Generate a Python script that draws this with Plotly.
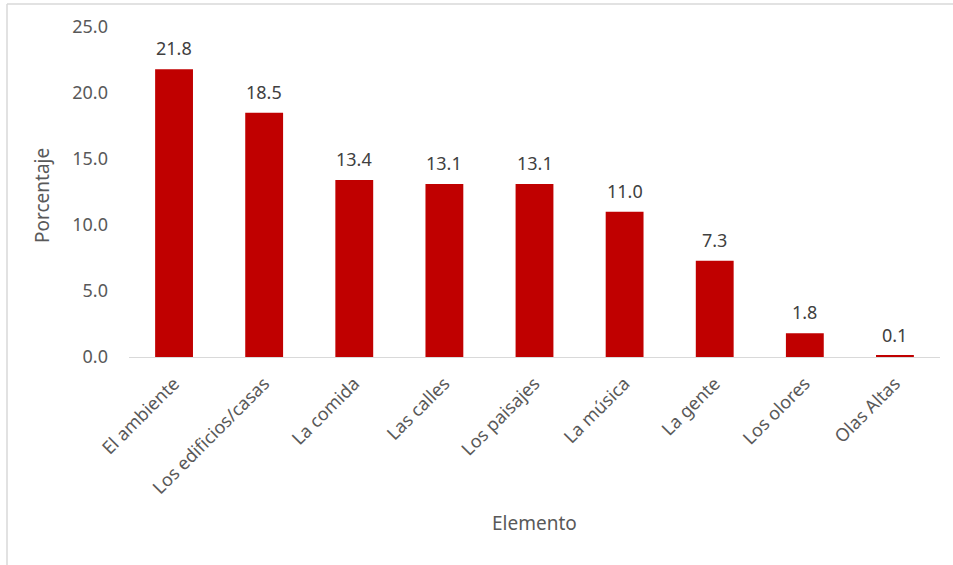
import plotly.graph_objects as go

categories = ["El ambiente", "Los edificios/casas", "La comida", "Las calles", "Los paisajes",
              "La música", "La gente", "Los olores", "Olas Altas"]
values = [21.8, 18.5, 13.4, 13.1, 13.1, 11.0, 7.3, 1.8, 0.1]
y_ticks = [0, 5, 10, 15, 20, 25]

W, H = 953, 565
L, R, T, B = 129, 13, 27, 208
pw, ph = W - L - R, H - T - B
FONT = "Noto Sans"
TXT = "#595959"

fig = go.Figure(go.Bar(
    x=categories, y=values, marker=dict(color="#C00000", line=dict(width=0)),
    width=0.42,
))

annotations = []
for c, v in zip(categories, values):
    annotations.append(dict(x=c, y=v, xref="x", yref="y", text=f"{v:.1f}", showarrow=False,
                            yanchor="bottom", yshift=7, font=dict(family=FONT, size=18, color="#404040")))
annotations.append(dict(x=0.5, y=(H - 523 - B) / ph, xref="paper", yref="paper", text="Elemento",
                        showarrow=False, font=dict(family=FONT, size=19, color=TXT),
                        xanchor="center", yanchor="middle"))
annotations.append(dict(x=(42 - L) / pw, y=(H - 196 - B) / ph, xref="paper", yref="paper", text="Porcentaje",
                        showarrow=False, textangle=-90, font=dict(family=FONT, size=19, color=TXT),
                        xanchor="center", yanchor="middle"))

shapes = [
    dict(type="line", xref="paper", yref="paper", x0=(7 - L) / pw, x1=(7 - L) / pw,
         y0=(H - 4 - B) / ph, y1=(H - 565 - B) / ph, line=dict(color="#d9d9d9", width=1.5)),
    dict(type="line", xref="paper", yref="paper", x0=(7 - L) / pw, x1=(953 - L) / pw,
         y0=(H - 4 - B) / ph, y1=(H - 4 - B) / ph, line=dict(color="#d9d9d9", width=1.5)),
]

fig.update_layout(
    width=W, height=H, margin=dict(l=L, r=R, t=T, b=B, autoexpand=False),
    paper_bgcolor="white", plot_bgcolor="white", showlegend=False,
    annotations=annotations, shapes=shapes,
    font=dict(family=FONT, size=18, color=TXT),
    xaxis=dict(showgrid=False, showline=True, linecolor="#d9d9d9", linewidth=1, ticks="",
               tickangle=-45, tickfont=dict(family=FONT, size=18, color=TXT), ticklabelstandoff=8,
               automargin=False),
    yaxis=dict(range=[0, 25], tickvals=y_ticks, tickformat=".1f", showgrid=False, showline=False,
               zeroline=False, ticks="", tickfont=dict(family=FONT, size=18, color=TXT),
               ticklabelstandoff=20, automargin=False),
    bargap=0.58,
)

fig.write_html("out.html")
